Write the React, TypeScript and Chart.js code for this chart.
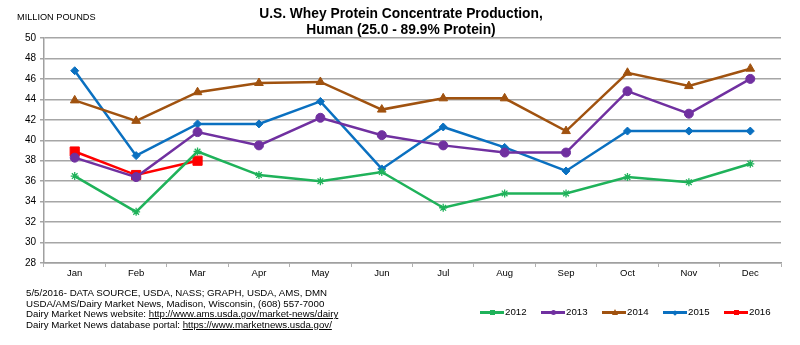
import React, { useEffect, useRef } from "react";
import { Chart, registerables } from "chart.js";

Chart.register(...registerables);

const months = ["Jan", "Feb", "Mar", "Apr", "May", "Jun", "Jul", "Aug", "Sep", "Oct", "Nov", "Dec"];
const y2012 = [36.5, 33.0, 38.9, 36.6, 36.0, 36.9, 33.4, 34.8, 34.8, 36.4, 35.9, 37.7];
const y2013 = [38.3, 36.4, 40.8, 39.5, 42.2, 40.5, 39.5, 38.8, 38.8, 44.8, 42.6, 46.0];
const y2014 = [43.9, 41.9, 44.7, 45.6, 45.7, 43.0, 44.1, 44.1, 40.9, 46.6, 45.3, 47.0];
const y2015 = [46.8, 38.5, 41.6, 41.6, 43.8, 37.2, 41.3, 39.3, 37.0, 40.9, 40.9, 40.9];
const y2016 = [38.9, 36.6, 38.0];

const seriesNames = ["2012", "2013", "2014", "2015", "2016"];
const seriesColors = ["#1fb25a", "#7030a0", "#a0520f", "#0a70c0", "#ff0000"];
const seriesPoints = ["star", "circle", "triangle", "rectRot", "rect"];
const seriesRadius = [4, 4.5, 5, 4, 6.5];

const FONT = "'Liberation Sans', Arial, sans-serif";

export default function App() {
  const ref = useRef<HTMLCanvasElement | null>(null);
  useEffect(() => {
    if (!ref.current) return;
    const values = [y2012, y2013, y2014, y2015, y2016];
    const chart = new Chart(ref.current, {
      type: "line",
      data: {
        labels: months,
        datasets: values.map((v, i) => ({
          label: seriesNames[i],
          data: v,
          borderColor: seriesColors[i],
          backgroundColor: seriesColors[i],
          pointBackgroundColor: seriesColors[i],
          pointBorderColor: seriesColors[i],
          pointStyle: seriesPoints[i] as any,
          pointRadius: seriesRadius[i],
          pointBorderWidth: seriesPoints[i] === "star" ? 1.3 : 1,
          borderWidth: 2.5,
          tension: 0,
          fill: false,
        })),
      },
      options: {
        animation: false,
        responsive: false,
        maintainAspectRatio: false,
        layout: { padding: { left: 8, right: 19, top: 38, bottom: 62 } },
        plugins: {
          legend: { display: false },
          title: { display: false },
          tooltip: { enabled: false },
        },
        scales: {
          x: {
            offset: true,
            afterFit: (s: any) => { s.height = 20; },
            grid: {
              offset: true,
              drawOnChartArea: false,
              drawTicks: true,
              tickLength: 4,
              color: "#b0b0b0",
            },
            border: { color: "#a0a0a0", width: 1.5 },
            ticks: { color: "#000", font: { family: FONT, size: 9.5 }, padding: 1 },
          },
          y: {
            min: 28,
            max: 50,
            afterFit: (s: any) => { s.width = 36; },
            grid: { color: "#a6a6a6", lineWidth: 1.5, tickLength: 4 },
            border: { color: "#a0a0a0", width: 1.5 },
            ticks: { stepSize: 2, color: "#000", font: { family: FONT, size: 10 }, padding: 4 },
          },
        },
      },
    });
    return () => chart.destroy();
  }, []);

  const legendMarker = (i: number) => {
    const c = seriesColors[i];
    const p = seriesPoints[i];
    const base: React.CSSProperties = { position: "absolute", left: 10, top: -1.5, width: 5, height: 5, background: c };
    if (p === "circle") base.borderRadius = "50%";
    if (p === "rectRot") { base.transform = "rotate(45deg)"; base.width = 4; base.height = 4; base.top = -0.5; }
    if (p === "triangle") {
      return <div style={{ position: "absolute", left: 9.5, top: -2.5, width: 0, height: 0, borderLeft: "3px solid transparent", borderRight: "3px solid transparent", borderBottom: `6px solid ${c}` }} />;
    }
    return <div style={base} />;
  };

  return (
    <div style={{ position: "absolute", left: 0, top: 0, width: 800, height: 345, background: "#fff", fontFamily: FONT }}>
      <canvas ref={ref} width={800} height={345} style={{ position: "absolute", left: 0, top: 0 }} />
      <div style={{ position: "absolute", left: 17, top: 12, fontSize: 9.2, color: "#000" }}>MILLION POUNDS</div>
      <div style={{ position: "absolute", left: 201, width: 400, top: 6, textAlign: "center", fontSize: 13.8, fontWeight: "bold", lineHeight: "16px", color: "#000" }}>
        U.S. Whey Protein Concentrate Production,<br />Human (25.0 - 89.9% Protein)
      </div>
      <div style={{ position: "absolute", left: 26, top: 288, fontSize: 9.7, lineHeight: "10.6px", color: "#000" }}>
        <div>5/5/2016- DATA SOURCE, USDA, NASS; GRAPH, USDA, AMS, DMN</div>
        <div>USDA/AMS/Dairy Market News, Madison, Wisconsin, (608) 557-7000</div>
        <div>Dairy Market News website: <span style={{ textDecoration: "underline" }}>http://www.ams.usda.gov/market-news/dairy</span></div>
        <div>Dairy Market News database portal: <span style={{ textDecoration: "underline" }}>https://www.marketnews.usda.gov/</span></div>
      </div>
      {seriesNames.map((n, i) => (
        <div key={n} style={{ position: "absolute", left: 480 + i * 61, top: 306, height: 12, width: 60 }}>
          <div style={{ position: "absolute", left: 0, top: 5, width: 24, height: 3, background: seriesColors[i] }}>
            {legendMarker(i)}
          </div>
          <div style={{ position: "absolute", left: 25, top: 0, fontSize: 9.7, lineHeight: "12px", color: "#000" }}>{n}</div>
        </div>
      ))}
    </div>
  );
}
